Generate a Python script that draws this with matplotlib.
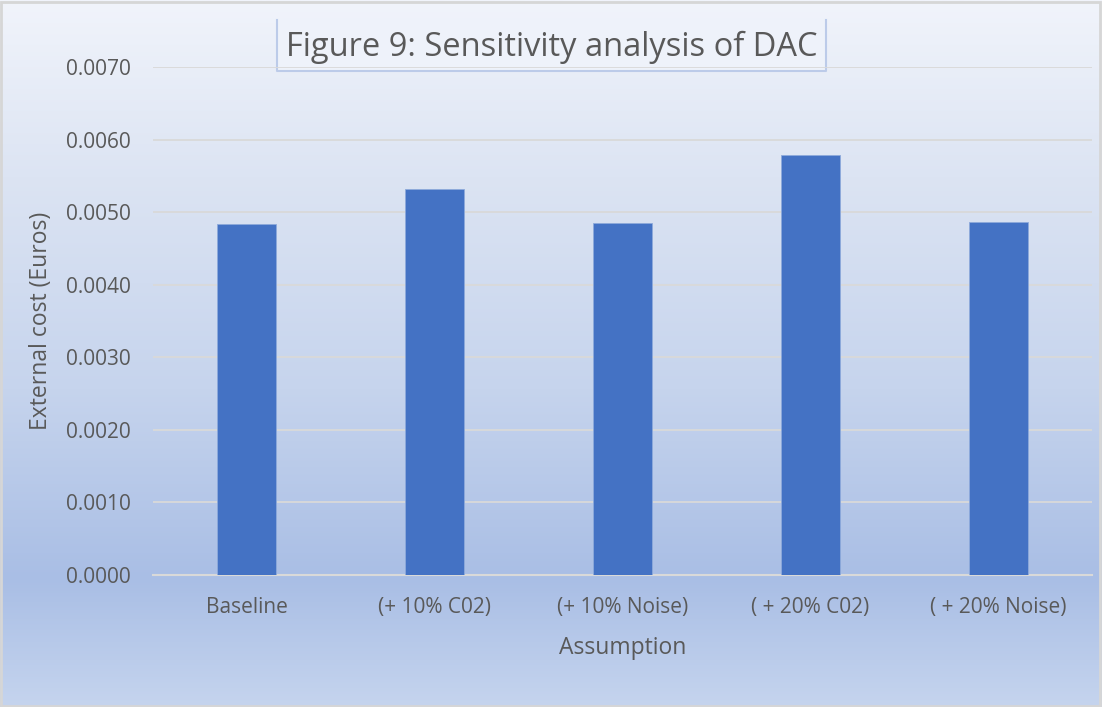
import numpy as np
import matplotlib.pyplot as plt
from matplotlib.colors import LinearSegmentedColormap
from matplotlib.patches import Rectangle

plt.rcParams['font.family'] = ['Open Sans', 'DejaVu Sans']

categories = ['Baseline', '(+ 10% C02)', '(+ 10% Noise)', '( + 20% C02)', '( + 20% Noise)']
costs = [0.00484, 0.00532, 0.00485, 0.00579, 0.00486]
yticks = np.arange(0, 0.0071, 0.001)

text_col = '#595959'
W, H = 1102, 707

fig = plt.figure(figsize=(W / 100, H / 100), dpi=100)

# gradient backdrop over the whole figure
bg = fig.add_axes([0, 0, 1, 1], zorder=-10)
grad = LinearSegmentedColormap.from_list(
    'bg', [(0.0, '#f1f4fb'), (0.25, '#dce4f3'), (0.55, '#c6d4ed'),
           (0.82, '#a9bee5'), (1.0, '#c5d4ee')])
bg.imshow(np.linspace(0, 1, 256).reshape(-1, 1), aspect='auto', cmap=grad,
          extent=[0, 1, 0, 1], origin='upper')
bg.add_patch(Rectangle((0.001, 0.002), 0.997, 0.995, transform=bg.transAxes,
                       fill=False, edgecolor='#d6d6d6', lw=2))
bg.set_xlim(0, 1)
bg.set_ylim(0, 1)
bg.set_axis_off()

ax = fig.add_axes([153 / W, 1 - 575 / H, 939 / W, 508 / H])
ax.set_facecolor('none')
x = np.arange(len(categories))
ax.bar(x, costs, width=0.315, color='#4472c4', edgecolor='#8eaadb',
       linewidth=0.6, zorder=3)

ax.set_xlim(-0.5, len(categories) - 0.5)
ax.set_ylim(0, 0.007)
ax.set_yticks(yticks)
ax.set_yticklabels([f'{v:.4f}' for v in yticks])
ax.set_xticks(x)
ax.set_xticklabels(categories)
ax.tick_params(length=0, labelsize=15, colors=text_col)
ax.tick_params(axis='x', pad=16)
ax.tick_params(axis='y', pad=16)
ax.yaxis.grid(True, color='#d9d9d9', lw=1.3, zorder=0)
for s in ['top', 'right', 'left']:
    ax.spines[s].set_visible(False)
ax.spines['bottom'].set_color('#d9d9d9')
ax.spines['bottom'].set_linewidth(1.5)

ax.set_ylabel('External cost (Euros)', fontsize=16.5, color=text_col, labelpad=9)
ax.set_xlabel('Assumption', fontsize=16.5, color=text_col, labelpad=13)

# title box: pale fill, blue edge on sides and bottom, fading top
x0, x1, y0, y1 = 277 / W, 826 / W, 1 - 71 / H, 1 - 20 / H
bg.add_patch(Rectangle((x0, y0), x1 - x0, y1 - y0, facecolor='#eef2fa',
                       edgecolor='none', zorder=5))
bg.plot([x0, x0, x1, x1], [y1, y0, y0, y1], color='#bccbe9', lw=1.5, zorder=6)
fig.text(552 / W, 1 - 56 / H, 'Figure 9: Sensitivity analysis of DAC',
         ha='center', va='baseline', fontsize=23.5, color=text_col, zorder=7)

fig.savefig('out.png', dpi=100)
